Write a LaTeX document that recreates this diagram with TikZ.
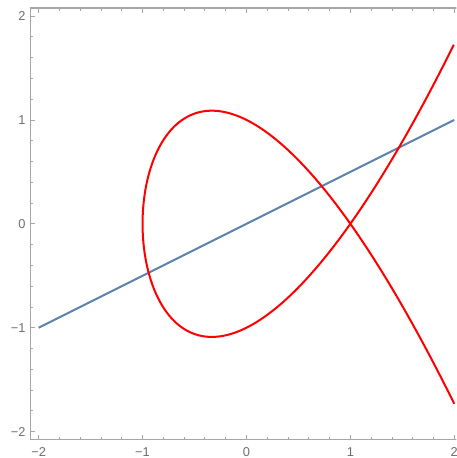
\documentclass[tikz,border=0pt]{standalone}
\usepackage{fontspec}
\setmainfont{Liberation Sans}
\definecolor{mblue}{HTML}{5E81B5}
\definecolor{framegray}{HTML}{A6A6A6}
\definecolor{labelgray}{HTML}{6E6E6E}
\tikzset{
  framestyle/.style={draw=framegray, line width=0.8pt},
  tickstyle/.style={draw=framegray, line width=0.6pt},
  ticklabel/.style={text=labelgray, font=\fontsize{9.6}{11}\selectfont, inner sep=0pt},
  curvestyle/.style={draw=red, line width=1.5pt, line join=round},
  linestyle/.style={draw=mblue, line width=1.5pt}
}
\begin{document}
\begin{tikzpicture}[x=77.85pt,y=77.85pt]
\useasboundingbox (-2.372,-2.254) rectangle (2.021,2.154);
\clip (-2.372,-2.254) rectangle (2.021,2.154);
% frame
\draw[framestyle] (-2.08,-2.08) rectangle (2.08,2.077);
% ticks
\foreach \i in {-10,...,10}{
  \pgfmathsetmacro{\v}{\i/5}
  \pgfmathsetmacro{\L}{ifthenelse(mod(abs(\i),5)==0,0.046,0.027)}
  \draw[tickstyle] (\v,-2.08) -- ++(0,\L);
  \draw[tickstyle] (\v,2.077) -- ++(0,-\L);
  \draw[tickstyle] (-2.08,\v) -- ++(\L,0);
  \draw[tickstyle] (2.08,\v) -- ++(-\L,0);
}
% tick labels
\foreach \v/\t in {-2/{−2},-1/{−1},0/0,1/1,2/2}{
  \node[ticklabel, anchor=center] (xl\v) at (\v,-2.196) {\t};
  \node[ticklabel, anchor=east] (yl\v) at (-2.125,\v) {\t};
}
% data
\begin{scope}
\clip (-2.08,-2.08) rectangle (2.08,2.077);
\draw[linestyle] (-2,-1) -- (2,1);
\draw[curvestyle] plot[domain=-1.7320508:1.7320508, samples=300, smooth] ({\x*\x-1},{\x*\x*\x-2*\x});
\end{scope}
\end{tikzpicture}
\end{document}
